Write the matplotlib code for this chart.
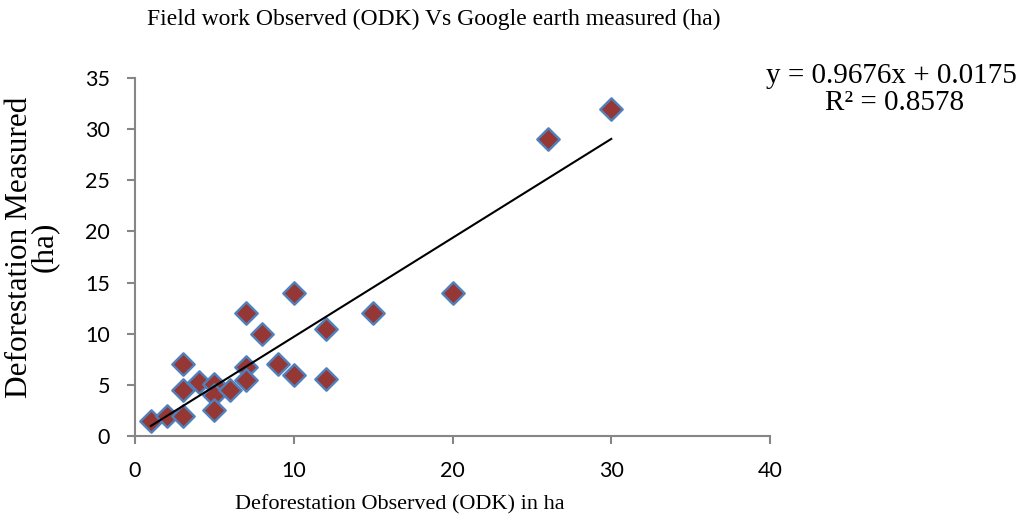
import numpy as np
import matplotlib
matplotlib.use("Agg")
import matplotlib.pyplot as plt

# observed (ODK) vs measured (Google earth), ha
observed = [1, 2, 3, 3, 3, 4, 5, 5, 5, 6, 7, 7, 7, 8, 9, 10, 10, 12, 12, 15, 20, 26, 30]
measured = [1.5, 2, 2, 4.5, 7, 5.3, 5.1, 4, 2.5, 4.5, 12, 6.7, 5.5, 10, 7, 14, 6, 10.5, 5.6, 12, 14, 29, 32]

slope = 0.9676
intercept = 0.0175
r2 = 0.8578

title = "Field work Observed (ODK) Vs Google earth measured (ha)"
xlabel = "Deforestation Observed (ODK) in ha"
ylabel = "Deforestation Measured\n(ha)"

serif = "Liberation Serif"
sans = "Lato"
grey = "#868686"

fig = plt.figure(figsize=(10.29, 5.31), dpi=100)
ax = fig.add_axes([0.1312, 0.1789, 0.6171, 0.6742])

ax.scatter(observed, measured, marker="D", s=130, facecolor="#953735",
           edgecolor="#4F81BD", linewidth=1.7, zorder=3)

# trend line from the fitted equation
x_fit = np.array([min(observed), max(observed)])
ax.plot(x_fit, slope * x_fit + intercept, color="black", lw=1.5, zorder=4)

ax.set_xlim(0, 40)
ax.set_ylim(0, 35)
ax.set_xticks(range(0, 41, 10))
ax.set_yticks(range(0, 36, 5))

for s in ["top", "right"]:
    ax.spines[s].set_visible(False)
for s in ["left", "bottom"]:
    ax.spines[s].set_color(grey)
    ax.spines[s].set_linewidth(1.5)
ax.tick_params(direction="out", length=6, width=1.5, color=grey,
               labelsize=15.5, pad=12)
for lab in ax.get_xticklabels() + ax.get_yticklabels():
    lab.set_fontfamily(sans)

fig.text(0.422, 0.964, title, ha="center", va="center",
         fontsize=17, family=serif)
fig.text(0.389, 0.049, xlabel, ha="center", va="center",
         fontsize=16, family=serif)
fig.text(0.031, 0.535, ylabel, ha="center", va="center", rotation=90,
         fontsize=22.5, family=serif, linespacing=0.8)

fig.text(0.988, 0.857, f"y = {slope}x + {intercept}", ha="right", va="center",
         fontsize=21, family=serif)
fig.text(0.869, 0.806, f"R² = {r2}", ha="center", va="center",
         fontsize=21, family=serif)

fig.savefig("out.png", dpi=100)
